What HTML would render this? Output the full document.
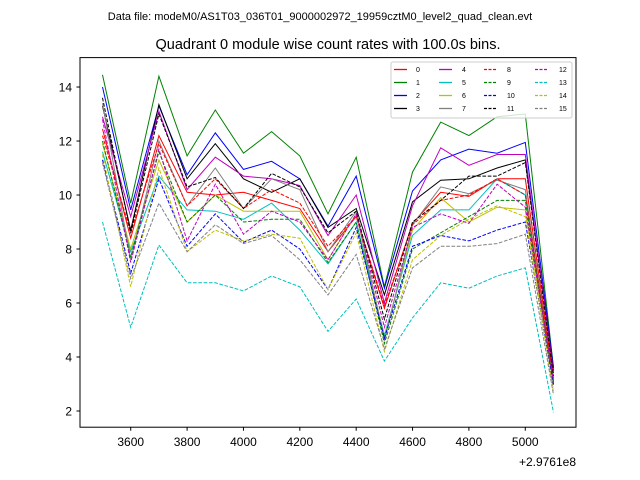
<!DOCTYPE html>
<html><head><meta charset="utf-8"><style>
body{margin:0;background:#fff;}
svg{display:block;font-family:"Liberation Sans","DejaVu Sans",sans-serif;}
</style></head><body>
<svg id="chart" width="640" height="480" viewBox="0 0 640 480">
<text x="320" y="20" font-size="11" text-anchor="middle">Data file: modeM0/AS1T03_036T01_9000002972_19959cztM0_level2_quad_clean.evt</text>
<text x="328" y="49" font-size="14.5" text-anchor="middle">Quadrant 0 module wise count rates with 100.0s bins.</text>
<g id="series"></g>
<rect x="80" y="57.6" width="496" height="369.6" fill="none" stroke="#000" stroke-width="1"/>
<g id="axes"></g>
<text x="576" y="466" font-size="12" text-anchor="end">+2.9761e8</text>
<g id="legend"></g>
</svg>
<script>
const xValues=[3500,3600,3700,3800,3900,4000,4100,4200,4300,4400,4500,4600,4700,4800,4900,5000,5100];
const xTicks=[3600,3800,4000,4200,4400,4600,4800,5000];
const yTicks=[2,4,6,8,10,12,14];
const s0=[12.45,8.4,12.2,10.1,10.0,10.1,9.8,9.5,7.9,9.2,5.8,8.95,10.1,9.95,10.6,10.6,3.2];
const s1=[14.45,9.7,14.4,11.45,13.15,11.55,12.35,11.45,9.3,11.4,6.6,10.85,12.7,12.2,12.9,13.0,3.6];
const s2=[14.0,9.45,13.3,10.75,12.3,10.95,11.25,10.6,8.85,10.7,6.55,10.15,11.3,11.7,11.55,11.95,3.6];
const s3=[13.3,8.7,13.35,10.6,11.9,10.6,10.1,10.6,8.8,9.5,6.3,9.75,10.55,10.6,11.0,11.3,3.5];
const s4=[12.9,9.2,13.1,10.2,11.4,10.7,10.6,10.35,8.5,10.0,6.0,9.6,11.75,11.1,11.5,11.5,3.4];
const s5=[11.6,7.9,10.7,9.45,9.4,9.1,9.7,8.7,7.45,9.0,4.8,8.5,9.45,9.45,10.6,10.0,3.0];
const s6=[11.9,8.0,11.3,9.0,10.0,9.4,9.4,9.4,7.6,9.3,4.7,8.7,9.9,9.0,9.55,9.45,3.0];
const s7=[13.4,7.6,12.0,9.6,11.0,9.5,10.6,10.2,7.9,9.4,4.6,8.9,10.3,10.05,10.55,10.2,3.0];
const s8=[12.2,8.6,11.9,9.6,10.6,9.5,10.2,9.7,8.1,9.2,5.9,8.9,9.8,10.0,10.6,10.0,3.1];
const s9=[12.0,7.7,11.6,9.0,10.0,9.0,9.1,9.1,7.5,9.0,4.5,8.0,8.6,9.2,9.8,9.8,3.0];
const s10=[11.3,7.1,10.6,8.1,9.3,8.25,8.7,8.0,6.5,8.8,4.7,8.1,8.5,8.3,8.7,9.0,2.9];
const s11=[13.6,8.6,13.0,10.3,10.65,9.5,10.8,10.3,8.6,9.4,5.4,9.0,9.8,10.7,10.7,11.2,3.3];
const s12=[12.8,7.5,11.7,8.3,10.4,8.55,9.4,9.0,7.6,9.3,5.1,8.8,9.3,8.95,10.4,9.55,3.1];
const s13=[9.0,5.1,8.15,6.75,6.75,6.45,7.0,6.6,4.95,6.15,3.85,5.45,6.75,6.55,7.0,7.3,1.95];
const s14=[11.5,6.6,11.0,7.9,8.7,8.3,8.55,8.4,6.5,8.6,4.2,7.6,8.5,9.1,9.6,9.2,2.7];
const s15=[11.2,6.9,9.7,7.9,8.9,8.2,8.5,7.6,6.3,7.8,4.3,7.3,8.1,8.1,8.2,8.55,2.6];
const seriesList=[s0,s1,s2,s3,s4,s5,s6,s7,s8,s9,s10,s11,s12,s13,s14,s15];
const colors=['#ff0000','#008000','#0000ff','#000000','#bf00bf','#00bfbf','#bfbf00','#808080'];
const NS='http://www.w3.org/2000/svg';
function xs(v){return 80+(v-3420)/1760*496;}
function ys(v){return 427.2-(v-1.4)/(15.09-1.4)*369.6;}
const gS=document.getElementById('series');
seriesList.forEach((arr,i)=>{
  const p=document.createElementNS(NS,'polyline');
  p.setAttribute('points',arr.map((v,j)=>xs(xValues[j]).toFixed(1)+','+ys(v).toFixed(1)).join(' '));
  p.setAttribute('fill','none');
  p.setAttribute('stroke',colors[i%8]);
  p.setAttribute('stroke-width','1');
  if(i>=8)p.setAttribute('stroke-dasharray','3.7,1.6');
  
  
  gS.appendChild(p);
});
const gA=document.getElementById('axes');
xTicks.forEach(t=>{
  const l=document.createElementNS(NS,'line');
  l.setAttribute('x1',xs(t));l.setAttribute('x2',xs(t));l.setAttribute('y1',427.2);l.setAttribute('y2',430.7);l.setAttribute('stroke','#000');
  
  
  gA.appendChild(l);
  const tx=document.createElementNS(NS,'text');
  tx.setAttribute('x',xs(t));tx.setAttribute('y',446);tx.setAttribute('font-size','12');tx.setAttribute('text-anchor','middle');
  tx.textContent=t;
  
  
  gA.appendChild(tx);
});
yTicks.forEach(t=>{
  const l=document.createElementNS(NS,'line');
  l.setAttribute('x1',76.5);l.setAttribute('x2',80);l.setAttribute('y1',ys(t));l.setAttribute('y2',ys(t));l.setAttribute('stroke','#000');
  
  
  gA.appendChild(l);
  const tx=document.createElementNS(NS,'text');
  tx.setAttribute('x',72);tx.setAttribute('y',ys(t)+4.3);tx.setAttribute('font-size','12');tx.setAttribute('text-anchor','end');
  tx.textContent=t;
  
  
  gA.appendChild(tx);
});
const gL=document.getElementById('legend');
const box=document.createElementNS(NS,'rect');
box.setAttribute('x',391);box.setAttribute('y',62);box.setAttribute('width',181);box.setAttribute('height',56);box.setAttribute('rx',2);
box.setAttribute('fill','#fff');box.setAttribute('fill-opacity','0.8');box.setAttribute('stroke','#ccc');


gL.appendChild(box);
const colX=[394,439,484,535];
const colT=[416,462,507,559];
seriesList.forEach((arr,i)=>{
  const c=Math.floor(i/4),r=i%4,y=69.5+r*13;
  const l=document.createElementNS(NS,'line');
  l.setAttribute('x1',colX[c]);l.setAttribute('x2',colX[c]+13);l.setAttribute('y1',y);l.setAttribute('y2',y);
  l.setAttribute('stroke',colors[i%8]);l.setAttribute('stroke-width','1.3');
  if(i>=8)l.setAttribute('stroke-dasharray','3,1.5');
  
  
  gL.appendChild(l);
  const tx=document.createElementNS(NS,'text');
  tx.setAttribute('x',colT[c]);tx.setAttribute('y',y+2.5);tx.setAttribute('font-size','7');
  tx.textContent=String(i);
  
  
  gL.appendChild(tx);
});
</script>
</body></html>
